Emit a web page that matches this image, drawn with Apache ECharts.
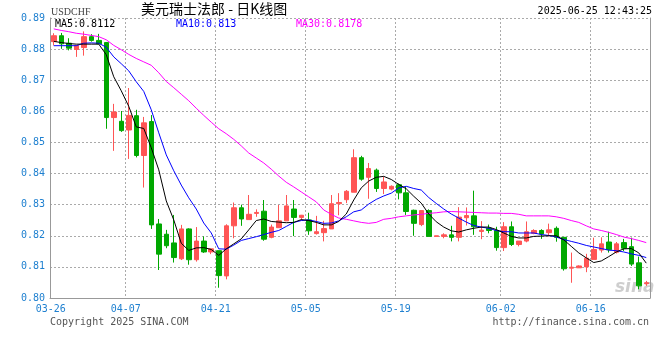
<!DOCTYPE html>
<html><head><meta charset="utf-8">
<script src="https://cdn.jsdelivr.net/npm/echarts@6/dist/echarts.min.js"></script>
<style>html,body{margin:0;padding:0;background:#fff}#c{width:660px;height:360px}</style>
</head><body><div id="c"></div>
<script>
const dates = ['03-26','03-27','03-28','03-29','03-31','04-01','04-02','04-03','04-04','04-05',
'04-07','04-08','04-09','04-10','04-11','04-12','04-14','04-15','04-16','04-17',
'04-18','04-19','04-21','04-22','04-23','04-24','04-25','04-26','04-28','04-29',
'04-30','05-01','05-02','05-03','05-05','05-06','05-07','05-08','05-09','05-10',
'05-12','05-13','05-14','05-15','05-16','05-17','05-19','05-20','05-21','05-22',
'05-23','05-24','05-25','05-26','05-27','05-28','05-29','05-30','05-31','06-01',
'06-02','06-03','06-04','06-05','06-06','06-07','06-09','06-10','06-11','06-12',
'06-13','06-14','06-16','06-17','06-18','06-19','06-20','06-23','06-24','06-25'];
const labeledDates = ['03-26','04-07','04-21','05-05','05-19','06-02','06-16'];
const opens = [0.8824,0.8843,0.8819,0.8799,0.8805,0.8840,0.8828,0.8821,0.8580,0.8568,
0.8540,0.8586,0.8458,0.8567,0.8238,0.8205,0.8177,0.8126,0.8222,0.8123,
0.8183,0.8148,0.8152,0.8071,0.8232,0.8290,0.8252,0.8272,0.8279,0.8195,
0.8226,0.8248,0.8286,0.8259,0.8251,0.8207,0.8210,0.8222,0.8303,0.8316,
0.8340,0.8451,0.8388,0.8411,0.8352,0.8350,0.8364,0.8338,0.8282,0.8236,
0.8281,0.8198,0.8198,0.8203,0.8195,0.8258,0.8264,0.8214,0.8224,0.8217,
0.8162,0.8229,0.8172,0.8183,0.8208,0.8217,0.8210,0.8224,0.8195,0.8096,
0.8097,0.8100,0.8124,0.8154,0.8180,0.8147,0.8178,0.8165,0.8113,0.8046];
const closes = [0.8843,0.8817,0.8803,0.8812,0.8840,0.8828,0.8817,0.8580,0.8598,0.8538,
0.8587,0.8458,0.8563,0.8235,0.8141,0.8168,0.8130,0.8222,0.8123,0.8183,
0.8148,0.8158,0.8072,0.8232,0.8290,0.8254,0.8269,0.8275,0.8189,0.8228,
0.8248,0.8296,0.8259,0.8266,0.8216,0.8213,0.8223,0.8303,0.8307,0.8343,
0.8451,0.8382,0.8416,0.8352,0.8373,0.8359,0.8338,0.8278,0.8240,0.8281,
0.8198,0.8200,0.8203,0.8195,0.8260,0.8265,0.8229,0.8218,0.8217,0.8162,
0.8229,0.8172,0.8183,0.8213,0.8217,0.8206,0.8219,0.8195,0.8094,0.8099,
0.8103,0.8128,0.8156,0.8174,0.8155,0.8174,0.8160,0.8109,0.8039,0.8049];
const lows = [0.8812,0.8801,0.8796,0.8775,0.8779,0.8824,0.8817,0.8544,0.8473,0.8534,
0.8447,0.8452,0.8355,0.8222,0.8090,0.8160,0.8114,0.8122,0.8107,0.8117,
0.8145,0.8141,0.8033,0.8060,0.8192,0.8232,0.8252,0.8261,0.8184,0.8192,
0.8226,0.8248,0.8199,0.8250,0.8203,0.8204,0.8182,0.8222,0.8266,0.8305,
0.8340,0.8377,0.8319,0.8341,0.8334,0.8346,0.8317,0.8267,0.8200,0.8231,
0.8198,0.8198,0.8192,0.8182,0.8182,0.8233,0.8203,0.8189,0.8208,0.8152,
0.8151,0.8167,0.8166,0.8179,0.8205,0.8190,0.8198,0.8181,0.8088,0.8049,
0.8097,0.8083,0.8124,0.8146,0.8146,0.8143,0.8151,0.8103,0.8028,0.8039];
const highs = [0.8851,0.8852,0.8835,0.8812,0.8857,0.8848,0.8849,0.8823,0.8624,0.8601,
0.8675,0.8605,0.8582,0.8588,0.8254,0.8219,0.8267,0.8235,0.8224,0.8228,
0.8198,0.8158,0.8152,0.8237,0.8307,0.8300,0.8331,0.8285,0.8315,0.8236,
0.8299,0.8331,0.8315,0.8267,0.8274,0.8264,0.8248,0.8331,0.8337,0.8347,
0.8478,0.8457,0.8434,0.8416,0.8390,0.8362,0.8368,0.8358,0.8284,0.8281,
0.8285,0.8200,0.8208,0.8232,0.8292,0.8291,0.8345,0.8247,0.8236,0.8229,
0.8244,0.8246,0.8183,0.8246,0.8221,0.8221,0.8239,0.8230,0.8196,0.8146,
0.8105,0.8142,0.8194,0.8195,0.8213,0.8180,0.8190,0.8194,0.8133,0.8055];
const ma5 = [0.8825,0.8821,0.8818,0.8816,0.8816,0.8816,0.8816,0.8782,0.8711,0.8666,
0.8616,0.8550,0.8545,0.8483,0.8412,0.8312,0.8251,0.8176,0.8153,0.8161,
0.8162,0.8156,0.8137,0.8158,0.8174,0.8190,0.8219,0.8249,0.8254,0.8246,
0.8244,0.8242,0.8243,0.8252,0.8249,0.8243,0.8235,0.8235,0.8246,0.8270,
0.8315,0.8354,0.8376,0.8388,0.8391,0.8381,0.8365,0.8351,0.8327,0.8305,
0.8270,0.8245,0.8228,0.8216,0.8212,0.8219,0.8224,0.8228,0.8228,0.8220,
0.8209,0.8198,0.8193,0.8193,0.8198,0.8199,0.8200,0.8200,0.8187,0.8166,
0.8145,0.8129,0.8114,0.8119,0.8133,0.8148,0.8158,0.8159,0.8145,0.8112];
const ma10 = [0.8811,0.8811,0.8811,0.8811,0.8819,0.8820,0.8819,0.8806,0.8775,0.8753,
0.8730,0.8695,0.8664,0.8605,0.8531,0.8460,0.8409,0.8363,0.8322,0.8286,
0.8241,0.8209,0.8158,0.8157,0.8170,0.8185,0.8191,0.8197,0.8204,0.8211,
0.8217,0.8230,0.8243,0.8249,0.8251,0.8246,0.8240,0.8241,0.8248,0.8261,
0.8277,0.8283,0.8302,0.8317,0.8328,0.8337,0.8354,0.8359,0.8352,0.8347,
0.8323,0.8304,0.8286,0.8270,0.8257,0.8244,0.8233,0.8228,0.8224,0.8217,
0.8213,0.8213,0.8209,0.8209,0.8209,0.8204,0.8201,0.8196,0.8188,0.8182,
0.8176,0.8169,0.8164,0.8159,0.8154,0.8152,0.8148,0.8142,0.8137,0.8130];
const ma30 = [0.8865,0.8860,0.8856,0.8851,0.8848,0.8844,0.8840,0.8830,0.8812,0.8798,
0.8783,0.8770,0.8759,0.8748,0.8724,0.8696,0.8676,0.8655,0.8634,0.8610,
0.8587,0.8565,0.8544,0.8528,0.8510,0.8489,0.8466,0.8450,0.8434,0.8414,
0.8392,0.8372,0.8357,0.8341,0.8325,0.8309,0.8283,0.8269,0.8257,0.8253,
0.8248,0.8243,0.8240,0.8243,0.8253,0.8256,0.8261,0.8264,0.8267,0.8269,
0.8272,0.8274,0.8277,0.8278,0.8277,0.8276,0.8275,0.8274,0.8273,0.8273,
0.8272,0.8272,0.8269,0.8264,0.8264,0.8264,0.8264,0.8261,0.8256,0.8249,
0.8243,0.8232,0.8222,0.8217,0.8211,0.8204,0.8196,0.8191,0.8185,0.8178];
const yMin = 0.80, yMax = 0.89, yStep = 0.01;
const symbolName = 'USDCHF';
const titleText = '美元瑞士法郎 - 日K线图';
const timeText = '2025-06-25 12:43:25';

const UP = '#ff5555', DOWN = '#00a800', LBL = '#1f80d0', GRID = '#aaaaaa';
const MONO = '"DejaVu Sans Mono", monospace';
const labelSet = new Set(labeledDates);
const showLbl = (idx, val) => labelSet.has(val);
const candle = dates.map((d, i) => [opens[i], closes[i], lows[i], highs[i]]);
const last = a => a[a.length - 1];

const chart = echarts.init(document.getElementById('c'), null, {renderer: 'canvas'});
chart.setOption({
  animation: false,
  backgroundColor: '#fff',
  grid: {left: 50, right: 10, top: 18, bottom: 62},
  xAxis: {
    type: 'category', data: dates, boundaryGap: true,
    axisLine: {lineStyle: {color: '#999', width: 1}},
    axisTick: {show: false},
    axisLabel: {interval: showLbl, color: LBL, fontFamily: MONO, fontSize: 10, margin: 6, padding: [0, 6, 0, 0]},
    splitLine: {show: true, interval: showLbl, lineStyle: {color: GRID, type: [2, 2], width: 1}}
  },
  yAxis: [{
    type: 'value', min: yMin, max: yMax, interval: yStep, position: 'left',
    axisLine: {show: true, lineStyle: {color: '#999', width: 1}},
    axisTick: {show: false},
    axisLabel: {color: LBL, fontFamily: MONO, fontSize: 10, margin: 5, formatter: v => v.toFixed(2)},
    splitLine: {show: true, lineStyle: {color: GRID, type: [2, 2], width: 1}}
  }, {
    type: 'value', min: yMin, max: yMax, interval: yStep, position: 'right',
    axisLine: {show: true, lineStyle: {color: '#999', width: 1}},
    axisTick: {show: false}, axisLabel: {show: false}, splitLine: {show: false}
  }],
  series: [{
    type: 'candlestick', data: candle, barWidth: 5,
    itemStyle: {color: UP, color0: DOWN, borderColor: UP, borderColor0: DOWN, borderWidth: 1}
  }, {
    type: 'line', data: ma30, showSymbol: false, lineStyle: {color: '#ff00ff', width: 1}, z: 3
  }, {
    type: 'line', data: ma10, showSymbol: false, lineStyle: {color: '#0000ff', width: 1}, z: 3
  }, {
    type: 'line', data: ma5, showSymbol: false, lineStyle: {color: '#000000', width: 1}, z: 4
  }],
  graphic: [
    {type: 'text', left: 51, top: 7, style: {text: symbolName, font: '10px "Liberation Serif"', fill: '#444'}},
    {type: 'text', left: 141, top: 2, style: {text: titleText, font: '14px "Noto Sans CJK SC"', fill: '#000'}},
    {type: 'text', right: 8, top: 6, style: {text: timeText, font: '10px ' + MONO, fill: '#000'}},
    {type: 'text', left: 55, top: 19, style: {text: 'MA5:' + last(ma5), font: '10px ' + MONO, fill: '#000'}},
    {type: 'text', left: 176, top: 19, style: {text: 'MA10:' + last(ma10), font: '10px ' + MONO, fill: '#0000ff'}},
    {type: 'text', left: 296, top: 19, style: {text: 'MA30:' + last(ma30), font: '10px ' + MONO, fill: '#ff00ff'}},
    {type: 'text', left: 50, top: 317, style: {text: 'Copyright 2025 SINA.COM', font: '10px ' + MONO, fill: '#555'}},
    {type: 'text', right: 11, top: 317, style: {text: 'http://finance.sina.com.cn', font: '10px ' + MONO, fill: '#555'}},
    {type: 'text', left: 615, top: 279, z: 0, style: {text: 'sina', font: 'italic bold 17px "DejaVu Sans"', fill: 'rgba(190,190,190,0.75)'}}
  ]
});
</script></body></html>
